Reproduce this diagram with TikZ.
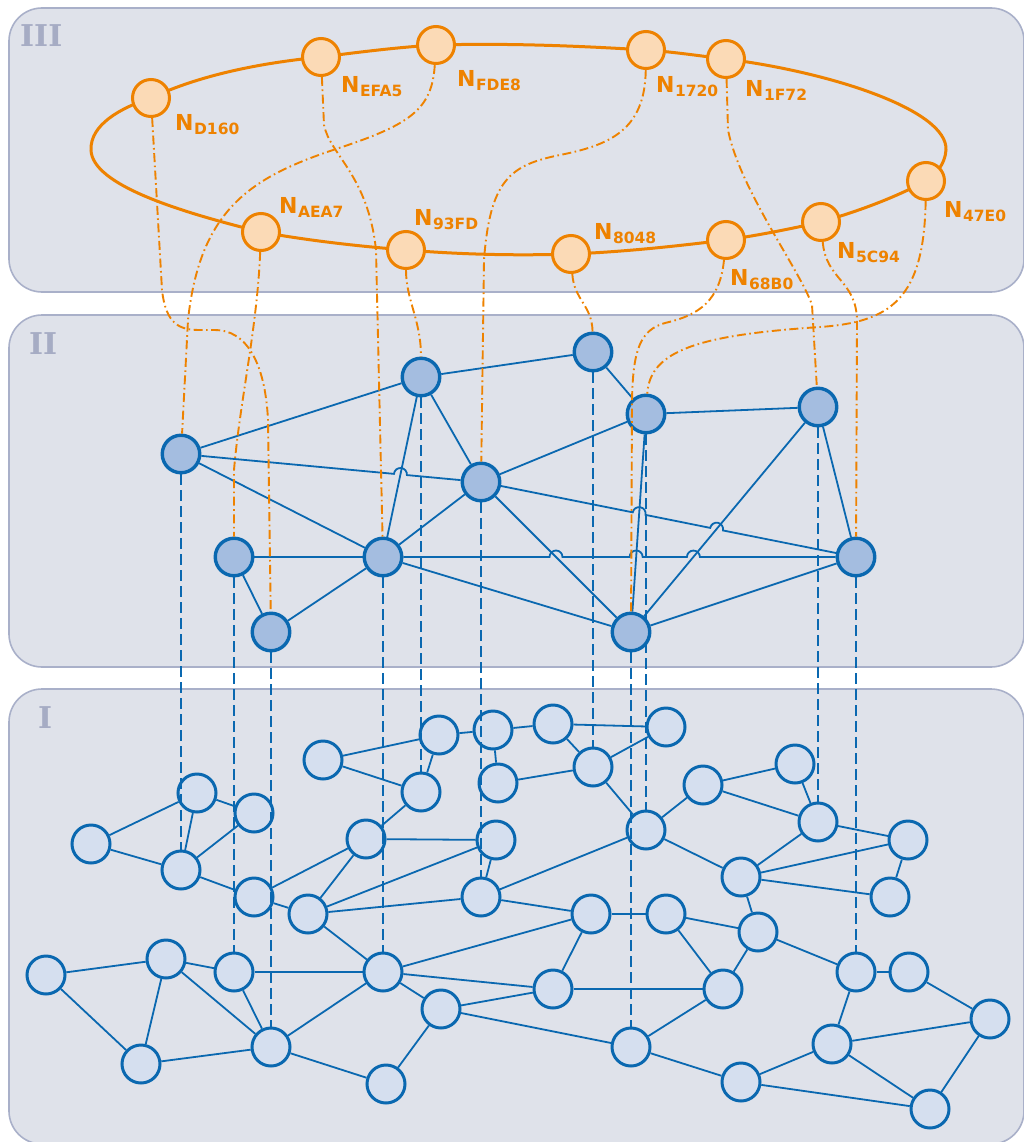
\documentclass[tikz,border=0pt]{standalone}
\usepackage{fontspec}
\newfontfamily\lblfont{DejaVu Sans}
\newfontfamily\romfont{DejaVu Serif}
\usetikzlibrary{calc}

\definecolor{panelfill}{HTML}{DFE2EA}
\definecolor{panelline}{HTML}{A9B0C9}
\definecolor{romcol}{HTML}{A6ACC4}
\definecolor{orange1}{HTML}{EE8200}
\definecolor{peach}{HTML}{FBDAB6}
\definecolor{blue1}{HTML}{0A68B0}
\definecolor{fillII}{HTML}{A4BDE0}
\definecolor{fillI}{HTML}{D5DFEF}

\pgfdeclarelayer{bg}
\pgfdeclarelayer{lay1}
\pgfdeclarelayer{dash}
\pgfdeclarelayer{lay2}
\pgfsetlayers{bg,lay1,dash,lay2,main}

% ring label: big N with a lowered hex index
\newcommand{\ringname}[1]{{\lblfont\bfseries\fontsize{22}{22}\selectfont N}\kern0.5pt\raisebox{-4pt}{\lblfont\bfseries\fontsize{15.5}{15.5}\selectfont #1}}

\tikzset{
  panel/.style={draw=panelline, line width=1.6pt, fill=panelfill, rounded corners=33pt},
  romlabel/.style={anchor=base west, inner sep=0, text=romcol, font=\romfont\bfseries\fontsize{30}{30}\selectfont},
  ring/.style={draw=orange1, line width=3pt},
  ringnode/.style={circle, draw=orange1, fill=peach, line width=3pt, minimum size=37pt, inner sep=0},
  ringlabel/.style={anchor=base west, inner sep=0, text=orange1},
  upnode/.style={circle, draw=blue1, fill=fillII, line width=3.4pt, minimum size=37.5pt, inner sep=0},
  lownode/.style={circle, draw=blue1, fill=fillI, line width=3pt, minimum size=38pt, inner sep=0},
  link/.style={draw=blue1, line width=1.8pt},
  vlink/.style={draw=blue1, line width=1.9pt, dash pattern=on 11pt off 5pt},
  olink/.style={draw=orange1, line width=1.9pt, dash pattern=on 9pt off 3.5pt on 1.6pt off 3.5pt},
}

\begin{document}
\begin{tikzpicture}[x=1pt, y=-1pt]
\useasboundingbox (0,0) rectangle (1023,1142);

% ---------- the three layers ----------
\begin{pgfonlayer}{bg}
  \path[panel] (9,8) rectangle (1024,292);
  \path[panel] (9,315) rectangle (1024,667);
  \path[panel] (9,689) rectangle (1024,1144);
  \node[romlabel] (rIII) at (20,47) {III};
  \node[romlabel] (rII) at (29,354) {II};
  \node[romlabel] (rI) at (38,728) {I};
\end{pgfonlayer}

% ---------- layer III: ring ----------
\draw[ring] (151,98) .. controls (200,75) and (260,63) .. (321,57)
  .. controls (360,52) and (400,47) .. (436,45)
  .. controls (510,43) and (580,46) .. (646,50)
  .. controls (675,52) and (700,56) .. (726,59)
  .. controls (830,72) and (948,110) .. (946,150)
  .. controls (945,165) and (935,175) .. (926,181)
  .. controls (890,200) and (855,212) .. (821,222)
  .. controls (790,229) and (760,235) .. (726,240)
  .. controls (670,247) and (620,252) .. (571,254)
  .. controls (510,256) and (455,254) .. (406,250)
  .. controls (355,246) and (305,240) .. (261,232)
  .. controls (180,212) and (92,185) .. (91,150)
  .. controls (90,125) and (120,108) .. (151,98);

\node[ringnode] (D160) at (151,98) {};
\node[ringnode] (EFA5) at (321,57) {};
\node[ringnode] (FDE8) at (436,45) {};
\node[ringnode] (N1720) at (646,50) {};
\node[ringnode] (N1F72) at (726,59) {};
\node[ringnode] (N47E0) at (926,181) {};
\node[ringnode] (N5C94) at (821,222) {};
\node[ringnode] (N68B0) at (726,240) {};
\node[ringnode] (N8048) at (571,254) {};
\node[ringnode] (N93FD) at (406,250) {};
\node[ringnode] (AEA7) at (261,232) {};

\node[ringlabel] (lD160) at (175,131) {\ringname{D160}};
\node[ringlabel] (lEFA5) at (341,93) {\ringname{EFA5}};
\node[ringlabel] (lFDE8) at (457,87) {\ringname{FDE8}};
\node[ringlabel] (l1720) at (656,93) {\ringname{1720}};
\node[ringlabel] (l1F72) at (745,97) {\ringname{1F72}};
\node[ringlabel] (l47E0) at (944,217) {\ringname{47E0}};
\node[ringlabel] (l5C94) at (837,258) {\ringname{5C94}};
\node[ringlabel] (l68B0) at (730,285) {\ringname{68B0}};
\node[ringlabel] (l8048) at (594,239) {\ringname{8048}};
\node[ringlabel] (l93FD) at (414,225) {\ringname{93FD}};
\node[ringlabel] (lAEA7) at (279,213) {\ringname{AEA7}};

% ---------- layer II ----------
\begin{pgfonlayer}{lay2}
  \node[upnode] (A) at (181,454) {};
  \node[upnode] (B) at (421,377) {};
  \node[upnode] (C) at (481,482) {};
  \node[upnode] (D) at (234,557) {};
  \node[upnode] (E) at (383,557) {};
  \node[upnode] (F) at (271,632) {};
  \node[upnode] (G) at (593,352) {};
  \node[upnode] (H) at (646,414) {};
  \node[upnode] (J) at (818,407) {};
  \node[upnode] (K) at (856,557) {};
  \node[upnode] (L) at (631,632) {};

  \coordinate (hAC) at (intersection of A.center--C.center and B.center--E.center);
  \coordinate (hCK1) at (intersection of C.center--K.center and H.center--L.center);
  \coordinate (hCK2) at (intersection of C.center--K.center and J.center--L.center);
  \coordinate (hEK1) at (intersection of E.center--K.center and C.center--L.center);
  \coordinate (hEK2) at (intersection of E.center--K.center and H.center--L.center);
  \coordinate (hEK3) at (intersection of E.center--K.center and J.center--L.center);

  \foreach \u/\v in {A/B, A/E, B/E, B/C, B/G, C/E, C/H, C/L, D/E, D/F,
                     E/F, E/L, G/H, H/J, H/L, J/L, J/K, K/L}
    \draw[link] (\u) -- (\v);

  % lines that hop over crossing lines
  \draw[link] (A) -- ($(hAC)!6.5pt!(A.center)$)
    arc[start angle=174.67, end angle=-5.33, radius=6.5pt] -- (C);
  \draw[link] (C) -- ($(hCK1)!6.5pt!(C.center)$)
    arc[start angle=168.69, end angle=-11.31, radius=6.5pt]
    -- ($(hCK2)!6.5pt!(C.center)$)
    arc[start angle=168.69, end angle=-11.31, radius=6.5pt] -- (K);
  \draw[link] (E) -- ($(hEK1)!6.5pt!(E.center)$)
    arc[start angle=180, end angle=0, radius=6.5pt]
    -- ($(hEK2)!6.5pt!(E.center)$)
    arc[start angle=180, end angle=0, radius=6.5pt]
    -- ($(hEK3)!6.5pt!(E.center)$)
    arc[start angle=180, end angle=0, radius=6.5pt] -- (K);
\end{pgfonlayer}

% ---------- layer I ----------
\begin{pgfonlayer}{lay1}
  \foreach \n/\x/\y in {
      1/91/844, 2/197/793, 3/254/813, 4/181/870, 5/254/897, 6/308/914,
      7/323/760, 8/439/735, 9/493/730, 10/498/783, 11/421/792, 12/366/839,
      13/496/840, 14/481/897, 15/46/975, 16/166/959, 17/234/972, 18/383/972,
      19/141/1064, 20/271/1047, 21/441/1009, 22/386/1084, 23/553/724,
      24/666/727, 25/593/767, 26/646/830, 27/703/785, 28/795/764,
      29/818/822, 30/908/840, 31/741/877, 32/890/897, 33/591/914,
      34/666/914, 35/758/932, 36/553/989, 37/723/989, 38/856/972,
      39/909/972, 40/990/1019, 41/631/1047, 42/832/1044, 43/741/1082,
      44/930/1109}
    \node[lownode] (n\n) at (\x,\y) {};

  \foreach \u/\v in {1/2, 1/4, 2/3, 2/4, 3/4, 4/5, 5/6, 5/12, 6/12, 6/13,
      6/14, 6/18, 7/8, 7/11, 8/11, 8/9, 9/10, 11/12, 12/13, 13/14, 14/26,
      14/33, 18/33, 18/36, 18/21, 18/20, 17/18, 16/17, 17/20, 15/16, 16/19,
      16/20, 15/19, 19/20, 20/22, 21/22, 21/36, 21/41, 10/25, 9/23, 23/24,
      23/25, 24/25, 25/26, 26/27, 26/31, 27/28, 27/29, 28/29, 29/31, 29/30,
      30/31, 31/32, 30/32, 31/35, 33/34, 33/36, 34/35, 34/37, 35/37, 35/38,
      36/37, 37/41, 38/39, 38/42, 39/40, 40/42, 42/43, 42/44, 43/44, 40/44,
      41/43}
    \draw[link] (n\u) -- (n\v);
\end{pgfonlayer}

% ---------- vertical links II -> I ----------
\begin{pgfonlayer}{dash}
  \foreach \u/\v in {A/4, D/17, F/20, E/18, B/11, C/14, G/25, L/41, H/26,
                     J/29, K/38}
    \draw[vlink] (\u) -- (n\v);
\end{pgfonlayer}

% ---------- links III -> II ----------
\draw[olink] (D160) -- (162,290) .. controls (166,325) and (180,330) .. (200,330)
  -- (215,330) .. controls (245,330) and (265,360) .. (268,420) -- (F);
\draw[olink] (EFA5) -- (324,125) .. controls (330,155) and (368,175) .. (376,250) -- (E);
\draw[olink] (FDE8) .. controls (432,110) and (410,125) .. (333,150)
  .. controls (250,178) and (200,210) .. (188,320) -- (A);
\draw[olink] (AEA7) .. controls (257,330) and (240,400) .. (234,470) -- (D);
\draw[olink] (N93FD) .. controls (406,300) and (421,320) .. (B);
\draw[olink] (N1720) .. controls (645,130) and (610,145) .. (560,155)
  .. controls (510,165) and (490,180) .. (484,260) -- (C);
\draw[olink] (N1F72) -- (728,130) .. controls (740,190) and (800,270) .. (812,305) -- (J);
\draw[olink] (N47E0) .. controls (924,300) and (890,322) .. (820,327)
  .. controls (700,335) and (650,350) .. (H);
\draw[olink] (N5C94) .. controls (826,280) and (856,280) .. (857,320) -- (K);
\draw[olink] (N68B0) .. controls (720,300) and (700,315) .. (665,323)
  .. controls (640,330) and (633,350) .. (632,400) -- (L);
\draw[olink] (N8048) .. controls (574,300) and (592,305) .. (G);

\end{tikzpicture}
\end{document}
